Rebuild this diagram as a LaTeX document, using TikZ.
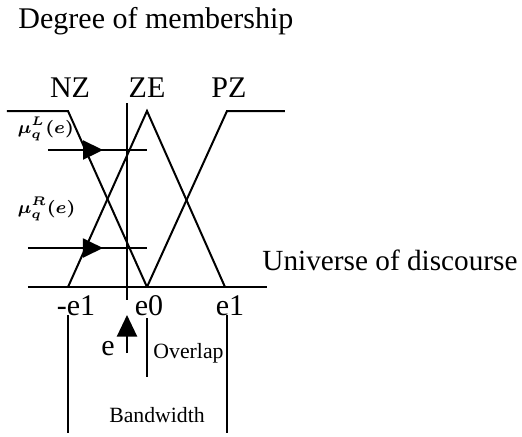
\documentclass[tikz,border=0pt]{standalone}
\usepackage{fontspec}
\setmainfont{Liberation Serif}
\usepackage{tikz}
\usetikzlibrary{arrows.meta,decorations.markings}
\tikzset{
  curve/.style={line width=0.8pt,line join=miter},
  guide/.style={line width=0.8pt},
  biglabel/.style={font=\fontsize{12}{14}\selectfont,inner sep=0pt},
  smalllabel/.style={font=\fontsize{8.7}{10}\selectfont,inner sep=0pt},
  mulabel/.style={font=\fontsize{7.4}{9}\selectfont\boldmath,inner sep=0pt},
  midarrow/.style={postaction={decorate},decoration={markings,mark=at position #1 with {\arrow{Triangle[length=8pt,width=7.6pt]}}}},
  uparrow/.style={-{Triangle[length=8.6pt,width=8pt]},line width=0.8pt}
}
\begin{document}
\begin{tikzpicture}[x=0.4pt,y=-0.4pt]
  \useasboundingbox (0,0) rectangle (522,436);
  % axis and membership functions
  \coordinate (axl) at (28,287);
  \coordinate (axr) at (267,287);
  \coordinate (nzl) at (7,111);
  \coordinate (nzk) at (68,111);
  \coordinate (zel) at (68,287);
  \coordinate (zet) at (147,111);
  \coordinate (ze0) at (147,287);
  \coordinate (zer) at (225,287);
  \coordinate (pzk) at (227,111);
  \coordinate (pzr) at (285,111);
  \draw[guide] (axl) -- (axr);
  \draw[curve] (nzl) -- (nzk) -- (ze0);
  \draw[curve] (zel) -- (zet) -- (zer);
  \draw[curve] (ze0) -- (pzk) -- (pzr);
  % input e and the two degrees
  \coordinate (etop) at (127,103);
  \coordinate (ebot) at (127,300);
  \draw[guide] (etop) -- (ebot);
  \coordinate (mulw) at (48,150);
  \coordinate (mule) at (147,150);
  \coordinate (murw) at (28,248);
  \coordinate (mure) at (147,248);
  \draw[guide,midarrow=0.556] (mulw) -- (mule);
  \draw[guide,midarrow=0.63] (murw) -- (mure);
  % labels
  \node[biglabel,anchor=base west] (degree) at (18,28) {Degree of membership};
  \node[biglabel,anchor=base] (nz) at (70,97) {NZ};
  \node[biglabel,anchor=base] (ze) at (147,97) {ZE};
  \node[biglabel,anchor=base] (pz) at (229,97) {PZ};
  \node[biglabel,font=\fontsize{11.7}{14}\selectfont,anchor=base west] (universe) at (262,270) {Universe of discourse};
  \node[mulabel,anchor=base west] (mul) at (17,133) {$\mu_q^L(e)$};
  \node[mulabel,anchor=base west] (mur) at (17,213) {$\mu_q^R(e)$};
  \node[biglabel,anchor=base] (nege) at (76,315) {-e1};
  \node[biglabel,anchor=base] (ezero) at (149,315) {e0};
  \node[biglabel,anchor=base] (eone) at (230,315) {e1};
  % bandwidth, overlap and input marker
  \coordinate (bwl) at (68,315);
  \coordinate (bwlb) at (68,433);
  \coordinate (bwr) at (227,315);
  \coordinate (bwrb) at (227,433);
  \coordinate (ovt) at (147,318);
  \coordinate (ovb) at (147,377);
  \coordinate (ein) at (127,353);
  \coordinate (etip) at (127,315);
  \draw[guide] (bwl) -- (bwlb);
  \draw[guide] (bwr) -- (bwrb);
  \draw[guide] (ovt) -- (ovb);
  \draw[uparrow] (ein) -- (etip);
  \node[biglabel,anchor=base] (elabel) at (108,355) {e};
  \node[smalllabel,anchor=base west] (overlap) at (153,358) {Overlap};
  \node[smalllabel,anchor=base] (bandwidth) at (157,422) {Bandwidth};
\end{tikzpicture}
\end{document}
